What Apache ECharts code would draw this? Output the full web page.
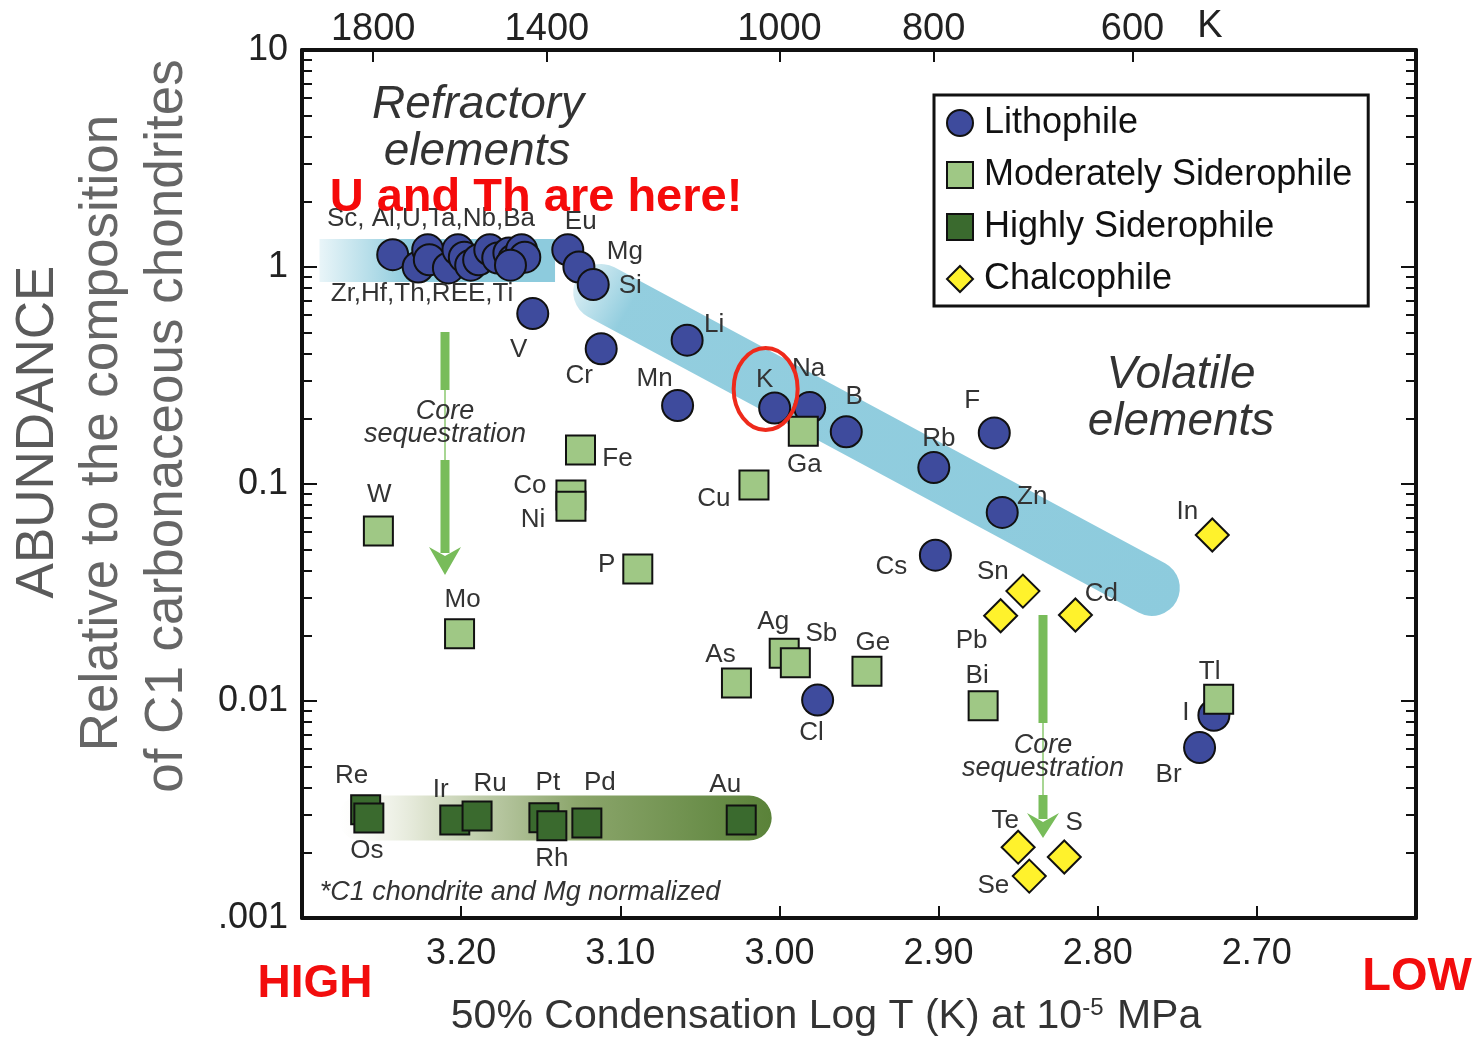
<!DOCTYPE html>
<html>
<head>
<meta charset="utf-8">
<title>Abundance vs 50% condensation temperature</title>
<script src="https://cdn.jsdelivr.net/npm/echarts@6/dist/echarts.min.js"></script>
<style>
  html, body { margin: 0; padding: 0; background: #fff; }
  #chart { width: 1483px; height: 1039px; }
</style>
</head>
<body>
<div id="chart"></div>
<script>
const FONT = '"Liberation Sans", Arial, Helvetica, sans-serif';

// Lithophile (blue circles); first 16 are the refractory cluster
const lithoNames = ['Sc', 'Al', 'U', 'Ta', 'Nb', 'Ba', 'Zr', 'Hf', 'Th', 'La', 'Ce', 'Nd', 'Sm', 'Gd', 'Ti', 'Ca',
  'Eu', 'Mg', 'Si', 'V', 'Cr', 'Li', 'Mn', 'K', 'Na', 'B', 'Rb', 'F', 'Zn', 'Cs', 'Cl', 'I', 'Br']
const lithoLogT = [3.243, 3.227, 3.221, 3.220, 3.208, 3.202, 3.198, 3.194, 3.189, 3.182, 3.177, 3.170, 3.167, 3.162, 3.160, 3.169,
  3.133, 3.126, 3.117, 3.155, 3.112, 3.058, 3.064, 3.003, 2.981, 2.958, 2.903, 2.865, 2.860, 2.902, 2.976, 2.727, 2.736]
const lithoAbund = [1.14, 1.00, 1.20, 1.08, 0.99, 1.20, 1.11, 1.02, 1.08, 1.20, 1.10, 1.16, 1.08, 1.20, 1.11, 1.02,
  1.20, 1.00, 0.83, 0.61, 0.42, 0.46, 0.23, 0.224, 0.225, 0.174, 0.119, 0.172, 0.074, 0.047, 0.0101, 0.0086, 0.0061]

// Moderately siderophile (light green squares)
const modNames = ['Fe', 'Co', 'Ni', 'W', 'Mo', 'P', 'Cu', 'Ga', 'As', 'Ag', 'Sb', 'Ge', 'Bi', 'Tl']
const modLogT = [3.125, 3.131, 3.131, 3.252, 3.201, 3.089, 3.016, 2.985, 3.027, 2.997, 2.990, 2.945, 2.872, 2.724]
const modAbund = [0.1435, 0.089, 0.079, 0.0607, 0.0204, 0.0406, 0.099, 0.175, 0.0121, 0.0166, 0.0150, 0.0137, 0.0095, 0.0102]

// Highly siderophile (dark green squares)
const highNames = ['Re', 'Os', 'Ir', 'Ru', 'Pt', 'Rh', 'Pd', 'Au']
const highLogT = [3.260, 3.258, 3.204, 3.190, 3.148, 3.143, 3.121, 3.024]
const highAbund = [0.00315, 0.00289, 0.00283, 0.00295, 0.0029, 0.00266, 0.00274, 0.00283]

// Chalcophile (yellow diamonds)
const chalNames = ['In', 'Sn', 'Pb', 'Cd', 'Te', 'S', 'Se']
const chalLogT = [2.728, 2.847, 2.861, 2.814, 2.850, 2.821, 2.843]
const chalAbund = [0.0582, 0.0321, 0.0247, 0.0249, 0.00212, 0.00191, 0.00156]

// shaded trend bands
const refractoryBandLogT = [3.289, 3.141]
const refractoryBandAbund = [1.07, 1.07]
const volatileBandLogT = [3.112, 2.766]
const volatileBandAbund = [0.767, 0.0332]
const hseBandLogT = [3.263, 3.019]
const hseBandAbund = [0.00289, 0.00289]

// axis ticks
const topTempsK = [1800, 1400, 1000, 800, 600]
const yLabels = { 0.001: '.001', 0.01: '0.01', 0.1: '0.1', 1: '1', 10: '10' }

// label offsets (px from symbol centre)
const labelOffsets = {
  Eu: [13, -28], Mg: [46, -15], Si: [37, 1], V: [-14, 36], Cr: [-22, 27], Li: [27, -15], Mn: [-23, -27],
  K: [-10, -28], Na: [-1, -39], B: [8, -35], Rb: [5, -29], F: [-22, -32], Zn: [30, -16], Cs: [-44, 12],
  Cl: [-6, 33], I: [-28, -2], Br: [-31, 27],
  Fe: [37, 9], Co: [-41, -9], Ni: [-38, 14], W: [1, -36], Mo: [3, -34], P: [-31, -4], Cu: [-40, 14],
  Ga: [1, 34], As: [-16, -28], Ag: [-11, -31], Sb: [26, -29], Ge: [6, -29], Bi: [-6, -30], Tl: [-9, -27],
  Re: [-14, -34], Os: [-2, 33], Ir: [-14, -30], Ru: [13, -32], Pt: [4, -35], Rh: [0, 33], Pd: [13, -40], Au: [-16, -35],
  In: [-25, -23], Sn: [-30, -19], Pb: [-29, 25], Cd: [26, -21], Te: [-13, -26], S: [10, -34], Se: [-36, 10]
}

const minorLog = []
for (let d = -3; d < 1; d++) {
  for (let k = 2; k <= 9; k++) minorLog.push(Math.log10(k) + d)
}

function points (names, xs, ys) {
  return names.map((n, i) => {
    const off = labelOffsets[n]
    return {
      name: n,
      value: [xs[i], ys[i]],
      label: off ? { show: true, offset: off } : { show: false }
    }
  })
}

function pairs (xs, ys) {
  return xs.map((x, i) => [x, ys[i]])
}

const pointLabel = {
  show: false,
  position: 'inside',
  formatter: '{b}',
  fontFamily: FONT,
  fontSize: 26,
  color: '#333',
  textBorderWidth: 0
}

function scatter (name, symbol, size, color, data, z) {
  return {
    name: name,
    type: 'scatter',
    symbol: symbol,
    symbolSize: size,
    z: z,
    itemStyle: { color: color, borderColor: '#111', borderWidth: 2, opacity: 1 },
    label: pointLabel,
    emphasis: { disabled: true },
    data: data
  }
}

function band (data, width, cap, gradient) {
  return {
    type: 'line',
    data: data,
    symbol: 'none',
    silent: true,
    z: 1,
    lineStyle: { width: width, cap: cap, color: gradient },
    emphasis: { disabled: true }
  }
}

const tickStyle = { lineStyle: { color: '#111', width: 2 } }
const frameLine = { onZero: false, lineStyle: { color: '#111', width: 4 } }

const option = {
  animation: false,
  backgroundColor: '#fff',
  textStyle: { fontFamily: FONT },
  grid: { left: 302, right: 67, top: 50, bottom: 121 },
  legend: {
    data: ['Lithophile', 'Moderately Siderophile', 'Highly Siderophile', 'Chalcophile'],
    orient: 'vertical',
    left: 934,
    top: 95,
    padding: [10, 16, 9, 12],
    itemGap: 16,
    itemWidth: 26,
    itemHeight: 26,
    borderColor: '#111',
    borderWidth: 3,
    borderRadius: 0,
    backgroundColor: '#fff',
    selectedMode: false,
    textStyle: { fontFamily: FONT, fontSize: 36, color: '#111', padding: [0, 0, 0, 6] }
  },
  xAxis: [
    {
      type: 'value',
      min: 2.6,
      max: 3.3,
      interval: 0.1,
      inverse: true,
      position: 'bottom',
      axisLine: frameLine,
      axisTick: { inside: true, length: 12, ...tickStyle },
      splitLine: { show: false },
      axisLabel: {
        showMinLabel: false,
        showMaxLabel: false,
        margin: 18,
        fontSize: 36,
        color: '#222',
        fontFamily: FONT,
        formatter: v => v.toFixed(2)
      }
    },
    {
      type: 'value',
      min: 2.6,
      max: 3.3,
      inverse: true,
      position: 'top',
      axisLine: frameLine,
      axisTick: { inside: true, length: 12, customValues: topTempsK.map(t => Math.log10(t)), ...tickStyle },
      splitLine: { show: false },
      axisLabel: {
        customValues: topTempsK.map(t => Math.log10(t)),
        margin: 1,
        fontSize: 38,
        color: '#222',
        fontFamily: FONT,
        formatter: v => String(Math.round(Math.pow(10, v)))
      }
    }
  ],
  yAxis: [
    {
      type: 'log',
      logBase: 10,
      min: 0.001,
      max: 10,
      position: 'left',
      axisLine: frameLine,
      axisTick: { inside: true, length: 15, ...tickStyle },
      splitLine: { show: false },
      axisLabel: {
        margin: 14,
        fontSize: 36,
        color: '#222',
        fontFamily: FONT,
        formatter: v => yLabels[v] !== undefined ? yLabels[v] : ''
      }
    },
    {
      type: 'value',
      min: -3,
      max: 1,
      position: 'left',
      axisLine: { show: false, onZero: false },
      axisTick: { inside: true, length: 10, customValues: minorLog, ...tickStyle },
      axisLabel: { show: false },
      splitLine: { show: false }
    },
    {
      type: 'log',
      logBase: 10,
      min: 0.001,
      max: 10,
      position: 'right',
      axisLine: frameLine,
      axisTick: { inside: true, length: 15, ...tickStyle },
      axisLabel: { show: false },
      splitLine: { show: false }
    },
    {
      type: 'value',
      min: -3,
      max: 1,
      position: 'right',
      axisLine: { show: false, onZero: false },
      axisTick: { inside: true, length: 10, customValues: minorLog, ...tickStyle },
      axisLabel: { show: false },
      splitLine: { show: false }
    }
  ],
  series: [
    band(pairs(refractoryBandLogT, refractoryBandAbund), 43, 'butt',
      new echarts.graphic.LinearGradient(0, 0, 1, 0, [
        { offset: 0, color: 'rgba(141,203,221,0)' },
        { offset: 0.4, color: 'rgba(141,203,221,1)' },
        { offset: 1, color: 'rgba(141,203,221,1)' }
      ])),
    band(pairs(volatileBandLogT, volatileBandAbund), 56, 'round',
      new echarts.graphic.LinearGradient(0, 0, 1, 1, [
        { offset: 0, color: 'rgba(141,203,221,0.2)' },
        { offset: 0.1, color: 'rgba(141,203,221,0.95)' },
        { offset: 1, color: 'rgba(141,203,221,1)' }
      ])),
    band(pairs(hseBandLogT, hseBandAbund), 45, 'round',
      new echarts.graphic.LinearGradient(0, 0, 1, 0, [
        { offset: 0, color: 'rgba(240,242,232,0)' },
        { offset: 0.2, color: '#dde3cf' },
        { offset: 0.55, color: '#8ca66c' },
        { offset: 1, color: '#5a8239' }
      ])),
    scatter('Lithophile', 'circle', 31, '#3e4b9d', points(lithoNames, lithoLogT, lithoAbund), 3),
    scatter('Moderately Siderophile', 'rect', 29, '#9fc885', points(modNames, modLogT, modAbund), 4),
    scatter('Highly Siderophile', 'rect', 29, '#3a6a2e', points(highNames, highLogT, highAbund), 4),
    scatter('Chalcophile', 'diamond', 33, '#fff22c', points(chalNames, chalLogT, chalAbund), 5)
  ]
}

const chart = echarts.init(document.getElementById('chart'))
chart.setOption(option)

function txt (x, y, text, size, opts) {
  return {
    type: 'text',
    x: x,
    y: y,
    z: 20,
    rotation: (opts && opts.rotation) || 0,
    style: Object.assign({
      text: text,
      fontFamily: FONT,
      fontSize: size,
      fill: '#333',
      align: 'center',
      verticalAlign: 'middle'
    }, (opts && opts.style) || {})
  }
}

function arrow (x, yTop, thinFrom, thinTo, headAt, tip) {
  const green = '#78bc5a'
  return [
    { type: 'line', z: 10, shape: { x1: x, y1: yTop, x2: x, y2: thinFrom }, style: { stroke: green, lineWidth: 9 } },
    { type: 'line', z: 10, shape: { x1: x, y1: thinFrom, x2: x, y2: thinTo }, style: { stroke: '#a8d693', lineWidth: 2 } },
    { type: 'line', z: 10, shape: { x1: x, y1: thinTo, x2: x, y2: headAt + 6 }, style: { stroke: green, lineWidth: 9 } },
    { type: 'polygon', z: 10, shape: { points: [[x - 16, headAt], [x, tip], [x + 16, headAt], [x, headAt + 9]] }, style: { fill: green } }
  ]
}

const kPix = chart.convertToPixel({ xAxisIndex: 0, yAxisIndex: 0 }, [lithoLogT[23], lithoAbund[23]])
const italic = { style: { fontStyle: 'italic' } }

chart.setOption({
  graphic: [
    txt(38, 432, 'ABUNDANCE', 53, { rotation: Math.PI / 2, style: { fill: '#5a5a5a' } }),
    txt(102, 433, 'Relative to the composition', 53, { rotation: Math.PI / 2, style: { fill: '#666' } }),
    txt(167, 426, 'of C1 carbonaceous chondrites', 53, { rotation: Math.PI / 2, style: { fill: '#666' } }),
    txt(1210, 27, 'K', 38, { style: { fill: '#222' } }),
    {
      type: 'text', x: 826, y: 1017, z: 20,
      style: {
        text: '50% Condensation Log T (K) at 10{sup|-5} MPa',
        fontFamily: FONT, fontSize: 41, fill: '#333', align: 'center', verticalAlign: 'middle',
        rich: { sup: { fontFamily: FONT, fontSize: 24, fill: '#333', verticalAlign: 'top', padding: [0, 2, 14, 0] } }
      }
    },
    txt(315, 984, 'HIGH', 46, { style: { fill: '#f20d0d', fontWeight: 'bold' } }),
    txt(1417, 977, 'LOW', 47, { style: { fill: '#f20d0d', fontWeight: 'bold' } }),
    txt(478, 105, 'Refractory', 46, italic),
    txt(477, 152, 'elements', 46, italic),
    txt(1181, 375, 'Volatile', 46, italic),
    txt(1181, 422, 'elements', 46, italic),
    txt(431, 219, 'Sc, Al,U,Ta,Nb,Ba', 26),
    txt(422, 294, 'Zr,Hf,Th,REE,Ti', 26),
    txt(536, 198, 'U and Th are here!', 47, { style: { fill: '#f50a0a', fontWeight: 'bold' } }),
    ...arrow(445, 332, 390, 460, 547, 575),
    ...arrow(1043, 615, 723, 795, 813, 838),
    txt(445, 411, 'Core', 27, italic),
    txt(445, 434, 'sequestration', 27, italic),
    txt(1043, 745, 'Core', 27, italic),
    txt(1043, 768, 'sequestration', 27, italic),
    txt(520, 892, '*C1 chondrite and Mg normalized', 27, italic),
    {
      type: 'ellipse', z: 25,
      shape: { cx: kPix[0] - 9, cy: kPix[1] - 19, rx: 32, ry: 41 },
      style: { fill: 'none', stroke: '#ee2a1b', lineWidth: 4 }
    }
  ]
})
</script>
</body>
</html>
